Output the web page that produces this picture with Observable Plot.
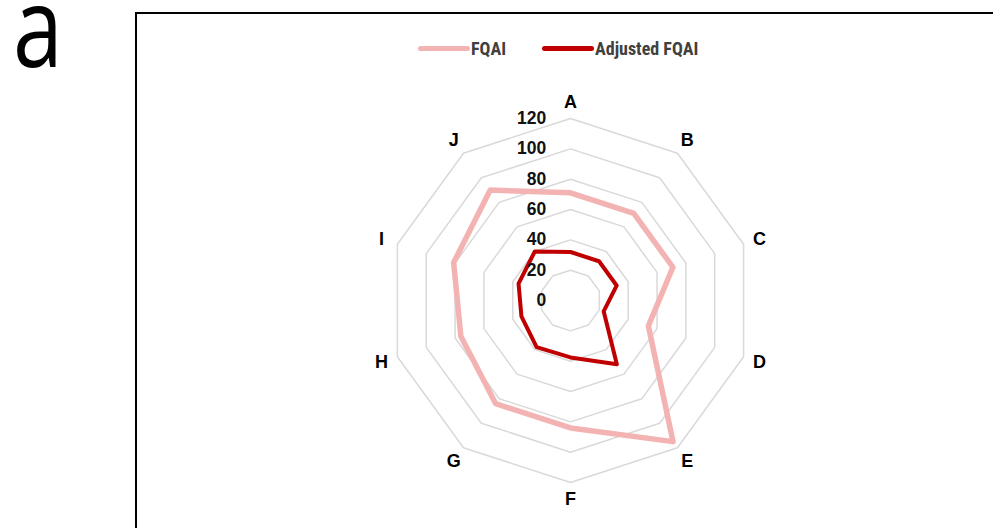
<!DOCTYPE html>
<html><head>
<meta charset="utf-8">
<script src="https://cdn.jsdelivr.net/npm/d3@7"></script>
<script src="https://cdn.jsdelivr.net/npm/@observablehq/plot@0.6"></script>
<style>
body{margin:0;background:#fff;}
#wrap{position:relative;width:993px;height:528px;overflow:hidden;background:#fff;}
#chart{position:absolute;left:0;top:0;}
#panel{position:absolute;left:13px;top:0px;font-family:"Open Sans",sans-serif;font-size:112px;line-height:48px;color:#000;transform:scaleX(0.8);transform-origin:left top;}
#frame{position:absolute;left:135px;top:12px;width:900px;height:600px;border:2px solid #000;box-sizing:border-box;}
#legend{position:absolute;left:418px;top:38px;display:flex;align-items:center;font-family:"Liberation Sans Narrow","Roboto Condensed",sans-serif;font-weight:bold;font-size:18px;color:#404040;z-index:2;}
.sw{display:inline-block;width:52px;height:5px;border-radius:3px;margin-right:1px;}
.item{display:flex;align-items:center;}
.item:first-child{width:124px;}
</style></head><body>
<div id="wrap">
  <div id="panel">a</div>
  <div id="frame"></div>
  <div id="chart"></div>
  <div id="legend"></div>
</div>
<script>
const categories = ["A","B","C","D","E","F","G","H","I","J"];
const fqai = [71, 71, 71, 54, 115, 84, 84, 76, 81, 90];
const adjusted = [32, 32, 32, 23, 52, 37.5, 38, 34, 36, 40];
const ticks = [0, 20, 40, 60, 80, 100, 120];
const seriesNames = ["FQAI", "Adjusted FQAI"];
const seriesColors = ["#f4b3b3", "#c00000"];

const n = categories.length;
const ang = i => i * 2 * Math.PI / n;
const pt = (i, v) => ({x: v * Math.sin(ang(i)), y: v * Math.cos(ang(i))});

const grid = [];
ticks.filter(t => t > 0).forEach(t => categories.forEach((c, i) => grid.push({ring: t, ...pt(i, t)})));
const s1 = fqai.map((v, i) => ({series: seriesNames[0], ...pt(i, v)}));
const s2 = adjusted.map((v, i) => ({series: seriesNames[1], ...pt(i, v)}));
const labels = categories.map((c, i) => ({label: c, ...pt(i, 131)}));
const tickLabels = ticks.map(t => ({label: String(t), x: -16, y: t}));

const chart = Plot.plot({
  width: 993, height: 528, margin: 0,
  x: {domain: [-375.8, 278.9], axis: null},
  y: {domain: [-150.3, 197.8], axis: null},
  marks: [
    Plot.line(grid, {x: "x", y: "y", z: "ring", curve: "linear-closed", stroke: "#d9d9d9", strokeWidth: 1.5}),
    Plot.line(s1, {x: "x", y: "y", curve: "linear-closed", stroke: seriesColors[0], strokeWidth: 5.5, strokeLinejoin: "round"}),
    Plot.line(s2, {x: "x", y: "y", curve: "linear-closed", stroke: seriesColors[1], strokeWidth: 4, strokeLinejoin: "round"}),
    Plot.text(tickLabels, {x: "x", y: "y", text: "label", textAnchor: "end", fontSize: 17.5, fontWeight: "bold", fill: "#111", fontFamily: "Liberation Sans, Arial, sans-serif"}),
    Plot.text(labels, {x: "x", y: "y", text: "label", fontSize: 18, fontWeight: "bold", fill: "#000", fontFamily: "Liberation Sans, Arial, sans-serif"})
  ]
});
document.getElementById("chart").appendChild(chart);

const lg = document.getElementById("legend");
seriesNames.forEach((s, i) => {
  const d = document.createElement("span");
  d.className = "item";
  d.innerHTML = `<span class="sw" style="background:${seriesColors[i]}"></span>${s}`;
  lg.appendChild(d);
});
</script>
</body></html>
